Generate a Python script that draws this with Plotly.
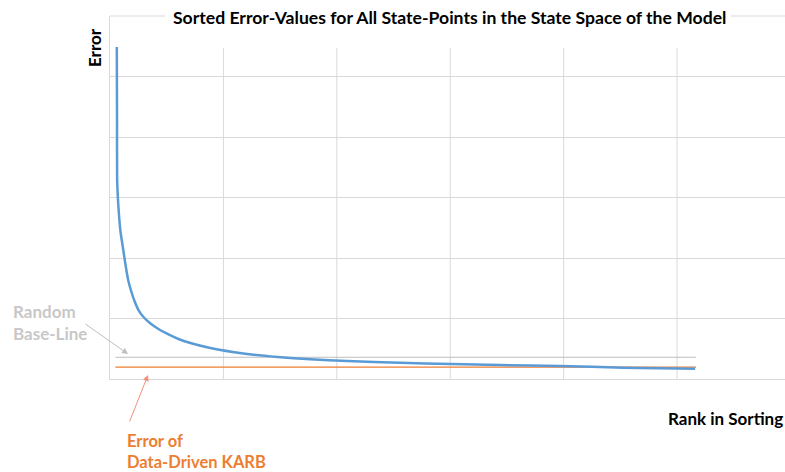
import plotly.graph_objects as go

# Data
rank = [60, 62, 63, 78, 93, 113, 137, 160, 189, 216, 251, 295, 357, 427, 507, 604,
        709, 885, 1176, 1476, 1767, 2093, 2559, 3000, 3441, 3969, 4524, 5159]
error = [0.5488, 0.4281, 0.3289, 0.2744, 0.2430, 0.2182, 0.1884, 0.1636, 0.1438,
         0.1289, 0.1140, 0.1025, 0.0917, 0.0826, 0.0744, 0.0661, 0.0595, 0.0512,
         0.0421, 0.0364, 0.0327, 0.0298, 0.0269, 0.0248, 0.0231, 0.0215, 0.0188, 0.0170]
baseline_x = [48, 5167]
random_baseline = [0.0359, 0.0359]
karb_error = [0.0195, 0.0195]
x_grid = [1000, 2000, 3000, 4000, 5000]
y_grid = [0.1, 0.2, 0.3, 0.4, 0.5]

FONT = "Lato"
FS = 17
GRID = "#d9d9d9"

fig = go.Figure()
fig.add_trace(go.Scatter(x=baseline_x, y=random_baseline, mode="lines",
                         line=dict(color="#bfbfbf", width=1), hoverinfo="skip"))
fig.add_trace(go.Scatter(x=baseline_x, y=karb_error, mode="lines",
                         line=dict(color="#ed7d31", width=1.3), hoverinfo="skip"))
fig.add_trace(go.Scatter(x=rank, y=error, mode="lines",
                         line=dict(color="#5b9bd5", width=2.5, shape="spline", smoothing=0.4)))

shapes = []
for gx in x_grid:
    shapes.append(dict(type="line", xref="x", yref="y", x0=gx, x1=gx, y0=0, y1=0.547,
                       line=dict(color=GRID, width=1), layer="below"))
# top frame line, interrupted by the title
shapes.append(dict(type="line", xref="paper", yref="paper", x0=0, x1=(165 - 110) / 675,
                   y0=1, y1=1, line=dict(color=GRID, width=1)))
shapes.append(dict(type="line", xref="paper", yref="paper", x0=(731 - 110) / 675, x1=1,
                   y0=1, y1=1, line=dict(color=GRID, width=1)))

def px(xp):
    return (xp - 110) / 675

def py(yp):
    return (379 - yp) / 363

annotations = [
    dict(text="<b>Sorted Error-Values for All State-Points in the State Space of the Model</b>",
         xref="paper", yref="paper", x=px(449.5), y=py(17), xanchor="center", yanchor="middle",
         showarrow=False, font=dict(family=FONT, size=17.6, color="#000000")),
    dict(text="<b>Error</b>", xref="paper", yref="paper", x=px(94), y=py(48), textangle=-90,
         xanchor="center", yanchor="middle", showarrow=False,
         font=dict(family=FONT, size=FS, color="#000000")),
    dict(text="<b>Rank in Sorting</b>", xref="paper", yref="paper", x=px(725), y=py(418),
         xanchor="center", yanchor="middle", showarrow=False,
         font=dict(family=FONT, size=FS, color="#000000")),
    dict(text="<b>Random<br>Base-Line</b>", xref="paper", yref="paper", x=px(11), y=py(322),
         xanchor="left", yanchor="middle", align="left", showarrow=False,
         font=dict(family=FONT, size=FS, color="#c8c8c8")),
    dict(text="<b>Error of<br>Data-Driven KARB</b>", xref="paper", yref="paper", x=px(125), y=py(451),
         xanchor="left", yanchor="middle", align="left", showarrow=False,
         font=dict(family=FONT, size=16.5, color="#ed7d31")),
    dict(text="", xref="paper", yref="paper", x=px(128), y=py(354), ax=-44, ay=-31,
         showarrow=True, arrowhead=2, arrowsize=1.2, arrowwidth=1, arrowcolor="#bfbfbf"),
    dict(text="", xref="paper", yref="paper", x=px(148), y=py(375), ax=-19, ay=48,
         showarrow=True, arrowhead=2, arrowsize=1.2, arrowwidth=1, arrowcolor="#f4907a"),
]

fig.update_layout(
    width=785, height=472,
    margin=dict(l=110, r=0, t=16, b=93),
    paper_bgcolor="white", plot_bgcolor="white",
    showlegend=False,
    shapes=shapes,
    annotations=annotations,
    xaxis=dict(range=[0, 5952], showgrid=False, zeroline=False, showticklabels=False,
               ticks="", showline=True, linecolor=GRID, linewidth=1, fixedrange=True),
    yaxis=dict(range=[0, 0.6], tickvals=y_grid, showgrid=True, gridcolor=GRID, gridwidth=1,
               zeroline=False, showticklabels=False, ticks="", showline=True,
               linecolor=GRID, linewidth=1, fixedrange=True),
)

fig.write_html("out.html", config={"displayModeBar": False},
               post_script="document.body.style.margin='0';document.body.style.overflow='hidden';")
